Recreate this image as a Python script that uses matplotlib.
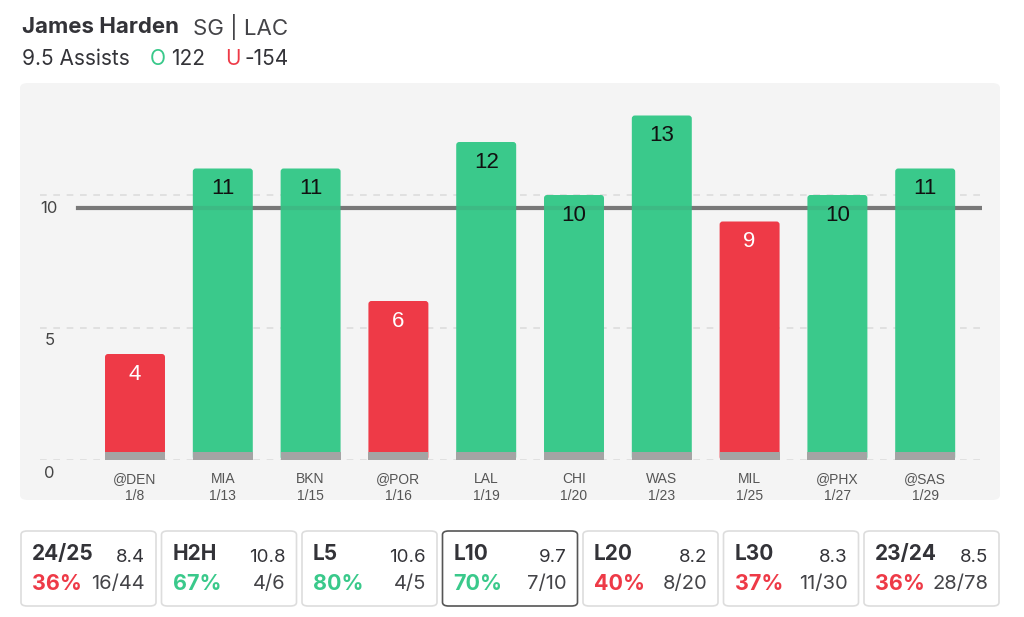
import matplotlib
matplotlib.use("Agg")
import matplotlib.pyplot as plt
from matplotlib.patches import FancyBboxPatch

plt.rcParams['font.family'] = ['Inter', 'DejaVu Sans']

# game log
teams = ['@DEN', 'MIA', 'BKN', '@POR', 'LAL', 'CHI', 'WAS', 'MIL', '@PHX', '@SAS']
dates = ['1/8', '1/13', '1/15', '1/16', '1/19', '1/20', '1/23', '1/25', '1/27', '1/29']
assists = [4, 11, 11, 6, 12, 10, 13, 9, 10, 11]
prop_line = 9.5
yticks = [0, 5, 10]

# split boxes
split_names = ['24/25', 'H2H', 'L5', 'L10', 'L20', 'L30', '23/24']
split_avg = ['8.4', '10.8', '10.6', '9.7', '8.2', '8.3', '8.5']
split_pct = [36, 67, 80, 70, 40, 37, 36]
split_hits = ['16/44', '4/6', '4/5', '7/10', '8/20', '11/30', '28/78']

GREEN = '#3ac98b'
RED = '#ee3a47'
W, H = 1024, 617


def fx(px):
    return px / W


def fy(py):
    return 1 - py / H


fig = plt.figure(figsize=(W / 100, H / 100), dpi=100)
fig.patch.set_facecolor('white')

# header
fig.text(fx(22), fy(27), 'James Harden', fontsize=16, fontweight='bold', color='#333338', va='center')
fig.text(fx(193), fy(27), 'SG | LAC', fontsize=16, color='#444448', va='center')
fig.text(fx(22), fy(59), '9.5 Assists', fontsize=15, color='#333338', va='center')
fig.text(fx(150), fy(59), 'O', fontsize=15, color=GREEN, va='center')
fig.text(fx(171), fy(59), '122', fontsize=15, color='#333338', va='center')
fig.text(fx(225), fy(59), 'U', fontsize=15, color=RED, va='center')
fig.text(fx(245), fy(59), '-154', fontsize=15, color='#333338', va='center')

# chart panel
panel = FancyBboxPatch((fx(20), fy(500)), fx(980), (500 - 83) / H,
                       boxstyle='round,pad=0,rounding_size=0.008',
                       transform=fig.transFigure, facecolor='#f4f4f4',
                       edgecolor='none', zorder=-5)
fig.patches.append(panel)

step = 87.8
c0 = 135
ppu = 26.5
ax = fig.add_axes([fx(40), fy(460), fx(982 - 40), (460 - 100) / H])
ax.set_zorder(2)
ax.set_facecolor('none')
ax.set_xlim((40 - c0) / step, (982 - c0) / step)
ax.set_ylim(0, 360 / ppu)
for s in ax.spines.values():
    s.set_visible(False)
ax.set_xticks([])
ax.set_yticks([])

for y in yticks:
    ax.axhline(y, color='#dcdcdc', lw=1.2, ls=(0, (4, 4)), zorder=1)
    ax.text(0.01, y - 0.5, str(y), transform=ax.get_yaxis_transform(),
            fontsize=12, color='#444444', ha='center', va='center', clip_on=False)

x = list(range(len(assists)))
colors = [GREEN if a > prop_line else RED for a in assists]
bars = ax.bar(x, assists, width=0.683, color=colors, zorder=2)
# rounded tops: swap each rectangle for a rounded box of the same geometry
r = 3 / step
for b in bars:
    b.set_visible(False)
    rb = FancyBboxPatch((b.get_x(), b.get_y()), b.get_width(), b.get_height(),
                        boxstyle=f'round,pad=0,rounding_size={r}',
                        mutation_aspect=step / ppu,
                        facecolor=b.get_facecolor(), edgecolor='none', zorder=2)
    ax.add_patch(rb)
ax.bar(x, [0.3] * len(x), width=0.683, color='#a4a4a4', zorder=3)

lx = (78 - 40) / (982 - 40)
ax.axhline(prop_line, xmin=lx, xmax=1, color='#7d7d7d', lw=3, zorder=1.5)
ax.axhline(prop_line, xmin=lx, xmax=1, color='#555555', lw=3, alpha=0.12, zorder=4)

for i, a in enumerate(assists):
    tc = 'white' if a < prop_line else '#111111'
    ax.text(i, a - 0.76, str(a), ha='center', va='center', fontsize=16,
            color=tc, family=['Liberation Sans', 'DejaVu Sans'], zorder=5)
    ax.text(i, -0.45, teams[i] + '\n' + dates[i], ha='center', va='top',
            fontsize=10, color='#555555', linespacing=1.3,
            family=['Liberation Sans', 'DejaVu Sans'], clip_on=False)

# split boxes
gap = 5.5
bw = (999 - 21 - gap * 6) / 7
for i, name in enumerate(split_names):
    left = 21 + i * (bw + gap)
    right = left + bw
    ec = '#555555' if name == 'L10' else '#dddddd'
    box = FancyBboxPatch((fx(left), fy(606)), fx(bw), 75 / H,
                         boxstyle='round,pad=0,rounding_size=0.006',
                         transform=fig.transFigure, facecolor='white',
                         edgecolor=ec, lw=1.2)
    fig.patches.append(box)
    fig.text(fx(left + 11), fy(554), name, fontsize=15, fontweight='bold',
             color='#333338', va='center')
    fig.text(fx(right - 11), fy(558), split_avg[i], fontsize=13.5,
             color='#333338', va='center', ha='right')
    pc = GREEN if split_pct[i] >= 50 else RED
    fig.text(fx(left + 11), fy(584), f'{split_pct[i]}%', fontsize=15.5,
             fontweight='bold', color=pc, va='center')
    fig.text(fx(right - 11), fy(584), split_hits[i], fontsize=14.5,
             color='#444448', va='center', ha='right')

fig.savefig('out.png', dpi=100)
